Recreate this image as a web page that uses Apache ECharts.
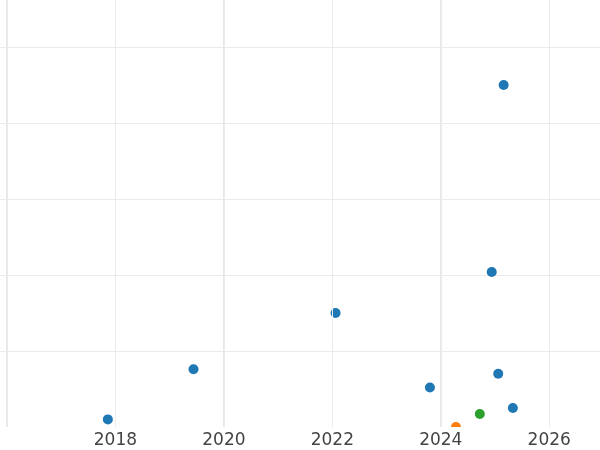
<!DOCTYPE html>
<html>
<head>
<meta charset="utf-8">
<script src="https://cdn.jsdelivr.net/npm/echarts@6/dist/echarts.min.js"></script>
<style>html,body{margin:0;padding:0;background:#fff}#c{width:600px;height:450px}</style>
</head>
<body>
<div id="c"></div>
<script>
// x values in fractional years, y values in chart units
const blueX = [2017.86, 2019.44, 2022.06, 2023.80, 2024.94, 2025.06, 2025.16, 2025.33];
const blueY = [1.0, 7.6, 15.0, 5.2, 20.4, 7.0, 45.0, 2.5];
const orangeX = [2024.28];
const orangeY = [0.0];
const greenX = [2024.72];
const greenY = [1.7];
const xMin = 2016, xMax = 2026.937;
const yMin = 0, yMax = 56.18;

function pts(xs, ys) { return xs.map((x, i) => [x, ys[i]]); }

const chart = echarts.init(document.getElementById('c'), null, {renderer: 'canvas'});
chart.setOption({
  animation: false,
  backgroundColor: '#ffffff',
  grid: [
    {left: 7, right: 0, top: 0, bottom: 23, containLabel: false},
    {left: 0, right: 0, top: 0, bottom: 23, containLabel: false}
  ],
  graphic: [{type: 'rect', z: 5, shape: {x: 0, y: 427, width: 600, height: 23}, style: {fill: '#ffffff'}}],
  xAxis: [{
    type: 'value', gridIndex: 0, min: xMin, max: xMax, interval: 2, z: 10,
    axisLine: {show: false}, axisTick: {show: false},
    axisLabel: {showMinLabel: false, showMaxLabel: false, color: '#444444', fontSize: 17, fontFamily: 'DejaVu Sans', margin: 5,
      formatter: v => String(v)},
    splitLine: {show: true, showMaxLine: false, lineStyle: {color: '#ebebeb', width: 1}}
  }, {
    type: 'value', gridIndex: 0, position: 'bottom', min: xMin, max: xMax, interval: 4,
    axisLine: {show: false}, axisTick: {show: false}, axisLabel: {show: false},
    splitLine: {show: true, showMaxLine: false, lineStyle: {color: '#e8e8e8', width: 2}}
  }, {
    type: 'value', gridIndex: 1, show: false, min: 0, max: 1
  }],
  yAxis: [{
    type: 'value', gridIndex: 0, min: yMin, max: yMax, interval: 10,
    axisLine: {show: false}, axisTick: {show: false}, axisLabel: {show: false},
    splitLine: {show: false}
  }, {
    type: 'value', gridIndex: 1, min: yMin, max: yMax, interval: 10,
    axisLine: {show: false}, axisTick: {show: false}, axisLabel: {show: false},
    splitLine: {show: true, showMinLine: false, showMaxLine: false, lineStyle: {color: '#ebebeb', width: 1}}
  }],
  series: [
    {type: 'scatter', name: 'A', xAxisIndex: 0, yAxisIndex: 0, data: pts(blueX, blueY), symbolSize: 10, z: 3, itemStyle: {color: '#1f77b4', opacity: 1}},
    {type: 'scatter', name: 'B', xAxisIndex: 0, yAxisIndex: 0, data: pts(orangeX, orangeY), symbolSize: 10, z: 3, itemStyle: {color: '#ff7f0e', opacity: 1}},
    {type: 'scatter', name: 'C', xAxisIndex: 0, yAxisIndex: 0, data: pts(greenX, greenY), symbolSize: 10, z: 3, itemStyle: {color: '#2ca02c', opacity: 1}}
  ]
});
</script>
</body>
</html>
